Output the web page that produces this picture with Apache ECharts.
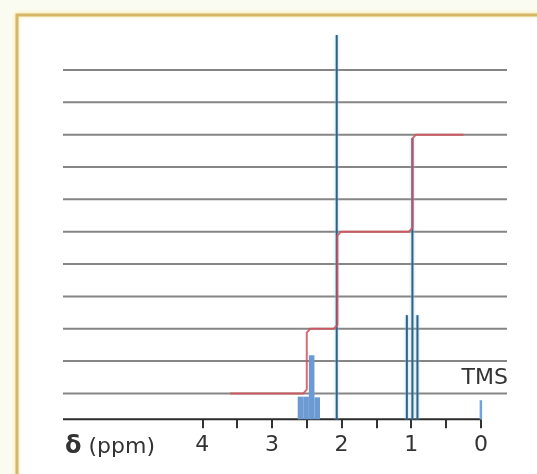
<!DOCTYPE html>
<html><head><meta charset="utf-8">
<script src="https://cdn.jsdelivr.net/npm/echarts@6/dist/echarts.min.js"></script>
<style>html,body{margin:0;padding:0;background:#fbfcf1}#c{width:537px;height:474px}</style>
</head><body><div id="c"></div>
<script>
// ---- data ----
const tickValues = [4, 3.5, 3, 2.5, 2, 1.5, 1, 0.5, 0];
const labelValues = [4, 3, 2, 1, 0];
const gridLevels = [0, 1, 2, 3, 4, 5, 6, 7, 8, 9, 10];
const axisRange = [6, 0];
const baseline = -0.8;
// singlet (2.07 ppm) and triplet (~1 ppm)
const linePpm = [2.07, 1.063, 0.983, 0.911];
const lineHeights = [11.08, 2.42, 7.9, 2.42];
// quartet (~2.47 ppm), drawn as a filled block
const quartetPpm = [2.59, 2.51, 2.43, 2.35];
const quartetHeights = [-0.1, -0.1, 1.18, -0.12];
// TMS reference
const tmsPpm = [0];
const tmsHeights = [-0.21];
// integration curve
const integralPpm = [3.60, 2.55, 2.50, 2.50, 2.45, 2.11, 2.06, 2.06, 2.01, 1.033, 0.983, 0.983, 0.933, 0.25];
const integralLevel = [0, 0, 0.12, 1.88, 2, 2, 2.12, 4.88, 5, 5, 5.12, 7.88, 8, 8];

const FONT = '"DejaVu Sans", sans-serif';
const chart = echarts.init(document.getElementById('c'), null, {renderer: 'canvas'});

function zip(a, b) { return a.map((v, i) => [v, b[i]]); }

function vlineRender(color, width, glow) {
  return function (params, api) {
    const x = api.value(0), h = api.value(1);
    const p0 = api.coord([x, baseline]), p1 = api.coord([x, h]);
    return {
      type: 'line',
      shape: {x1: p0[0], y1: p0[1], x2: p1[0], y2: p1[1]},
      style: {stroke: color, lineWidth: width, shadowBlur: glow ? 3 : 0, shadowColor: '#9cc8ea'}
    };
  };
}

const option = {
  backgroundColor: '#fbfcf1',
  animation: false,
  grid: {left: 63, right: 30, top: 34.4, bottom: 54.7},
  xAxis: {
    type: 'value', inverse: true, min: -0.375, max: 6,
    axisLine: {show: false, onZero: false},
    splitLine: {show: false},
    axisTick: {show: true, customValues: tickValues, length: 9, lineStyle: {color: '#333', width: 2}},
    axisLabel: {customValues: labelValues, fontSize: 22, color: '#333', margin: 15, fontFamily: FONT}
  },
  yAxis: {type: 'value', min: baseline, max: 11.1, show: false},
  graphic: [
    {type: 'rect', z: -10, shape: {x: 17, y: 15, width: 560, height: 500},
     style: {fill: '#ffffff', stroke: '#d6b767', lineWidth: 3, shadowBlur: 4, shadowColor: '#f3e6a0'}},
    {type: 'text', z: 10, x: 65, y: 447,
     style: {text: '{d|δ} (ppm)', fontSize: 22, fontFamily: FONT, fill: '#333', verticalAlign: 'middle',
             rich: {d: {fontWeight: 'bold', fontSize: 24, fontFamily: FONT, fill: '#333'}}}},
    {type: 'text', z: 10, x: 508, y: 378,
     style: {text: 'TMS', fontSize: 22, fontFamily: FONT, fill: '#333', align: 'right', verticalAlign: 'middle'}}
  ],
  series: [
    { // horizontal reference lines
      type: 'custom', z: 1, silent: true,
      data: gridLevels.map(v => [0, v]),
      encode: {x: 0, y: 1},
      renderItem: function (params, api) {
        const y = api.coord([0, api.value(1)])[1];
        const cs = params.coordSys;
        return {type: 'line', shape: {x1: cs.x, y1: y, x2: cs.x + cs.width, y2: y},
                style: {stroke: '#858585', lineWidth: 2}};
      }
    },
    { // baseline axis from 6 to 0 ppm
      type: 'custom', z: 2, silent: true,
      data: [[axisRange[0], axisRange[1]]],
      encode: {x: [0, 1]},
      renderItem: function (params, api) {
        const p0 = api.coord([api.value(0), baseline]), p1 = api.coord([api.value(1), baseline]);
        return {type: 'line', shape: {x1: p0[0], y1: p0[1], x2: p1[0], y2: p1[1]},
                style: {stroke: '#2b2b2b', lineWidth: 2}};
      }
    },
    { // quartet block
      type: 'custom', z: 3, silent: true,
      data: zip(quartetPpm, quartetHeights),
      encode: {x: 0, y: 1},
      renderItem: function (params, api) {
        const x = api.value(0), h = api.value(1);
        const p0 = api.coord([x, baseline]), p1 = api.coord([x, h]);
        const w = 5.6;
        return {type: 'rect', shape: {x: p0[0] - w / 2, y: p1[1], width: w, height: p0[1] - p1[1]},
                style: {fill: '#6b9bd2'}};
      }
    },
    { // singlet and triplet lines
      type: 'custom', z: 4, silent: true,
      data: zip(linePpm, lineHeights),
      encode: {x: 0, y: 1},
      renderItem: vlineRender('#2e6385', 2, true)
    },
    { // integration curve
      type: 'line', z: 5, silent: true, symbol: 'none',
      data: zip(integralPpm, integralLevel),
      lineStyle: {color: '#d6505a', width: 2, opacity: 0.85}
    },
    { // TMS
      type: 'custom', z: 5, silent: true,
      data: zip(tmsPpm, tmsHeights),
      encode: {x: 0, y: 1},
      renderItem: vlineRender('#6fa6da', 2.5, false)
    }
  ]
};
chart.setOption(option);
</script>
</body></html>
